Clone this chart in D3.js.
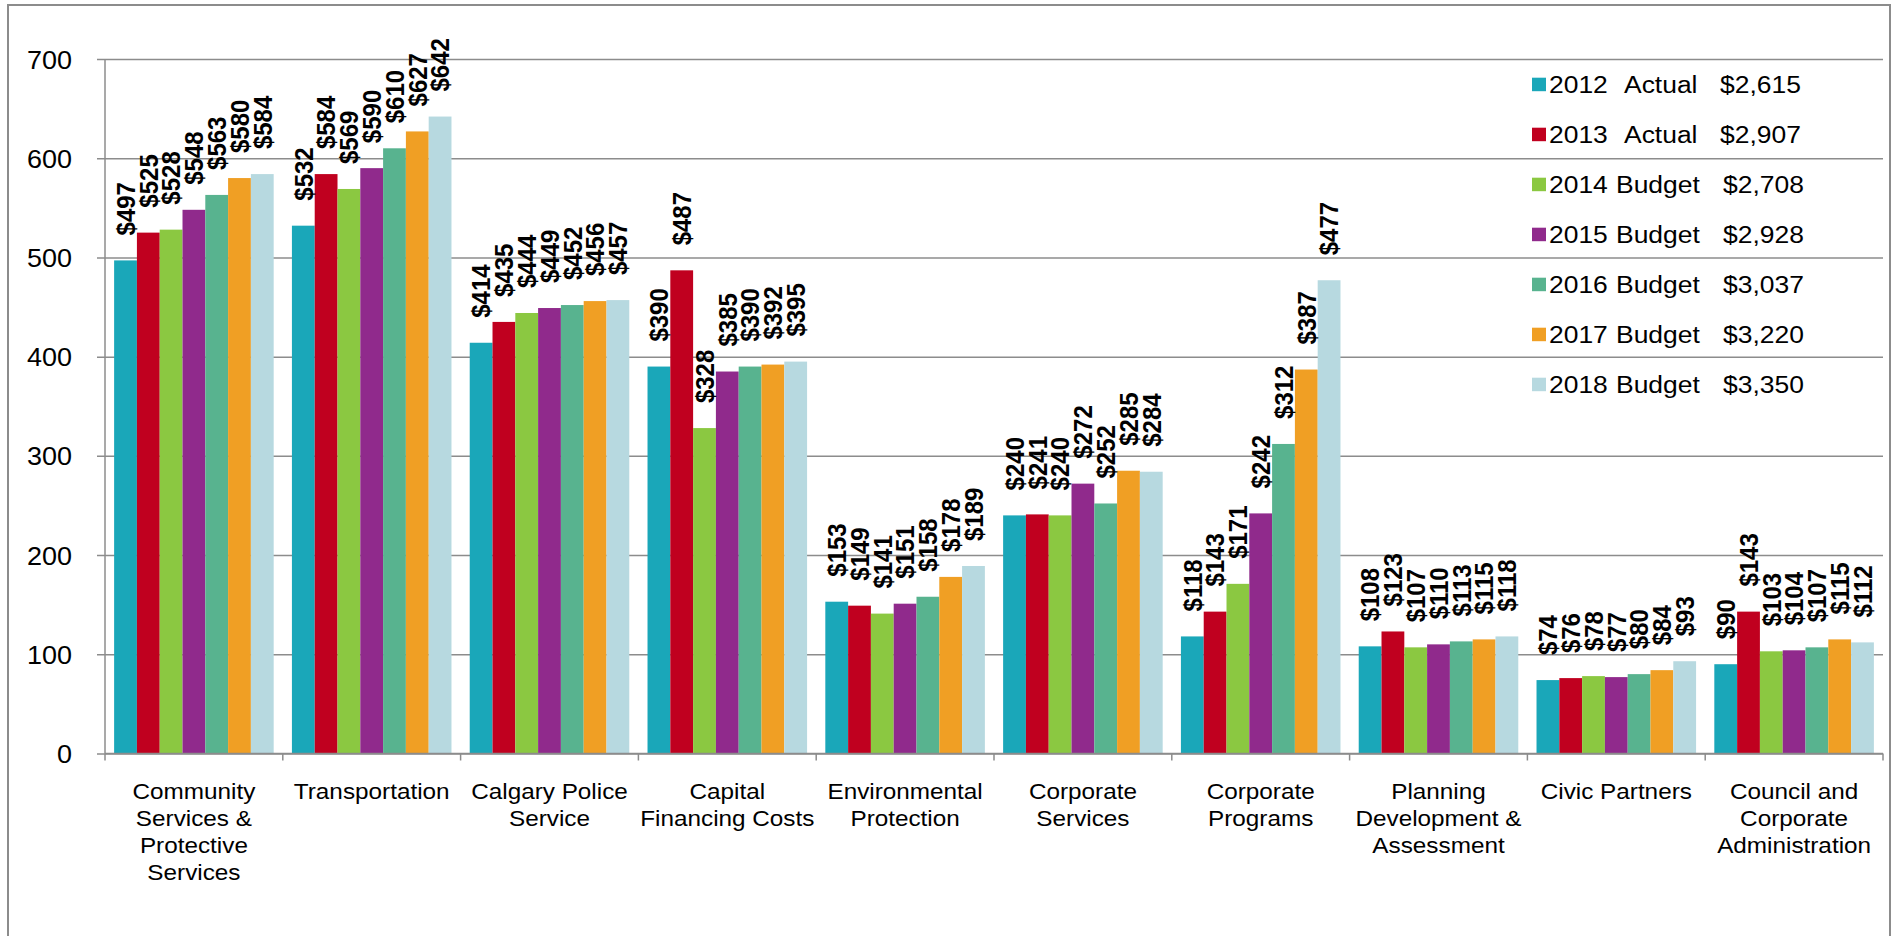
<!DOCTYPE html>
<html>
<head>
<meta charset="utf-8">
<script src="https://cdn.jsdelivr.net/npm/d3@7"></script>
<style>
  html, body { margin: 0; padding: 0; background: #fff; }
  svg { display: block; }
  text { font-family: "Liberation Sans", Arial, sans-serif; fill: #000; }
</style>
</head>
<body>
<svg id="chart" width="1891" height="936"></svg>
<script>
// ---- data ----
const categories = [
  ["Community", "Services &", "Protective", "Services"],
  ["Transportation"],
  ["Calgary Police", "Service"],
  ["Capital", "Financing Costs"],
  ["Environmental", "Protection"],
  ["Corporate", "Services"],
  ["Corporate", "Programs"],
  ["Planning", "Development &", "Assessment"],
  ["Civic Partners"],
  ["Council and", "Corporate", "Administration"]
];
const seriesYears  = ["2012", "2013", "2014", "2015", "2016", "2017", "2018"];
const seriesTypes  = ["Actual", "Actual", "Budget", "Budget", "Budget", "Budget", "Budget"];
const seriesTotals = ["$2,615", "$2,907", "$2,708", "$2,928", "$3,037", "$3,220", "$3,350"];
const seriesColors = ["#1aa7b9", "#c0001f", "#8bc841", "#902a8c", "#58b38f", "#f09f24", "#b7d9e0"];

const v2012 = [497, 532, 414, 390, 153, 240, 118, 108, 74, 90];
const v2013 = [525, 584, 435, 487, 149, 241, 143, 123, 76, 143];
const v2014 = [528, 569, 444, 328, 141, 240, 171, 107, 78, 103];
const v2015 = [548, 590, 449, 385, 151, 272, 242, 110, 77, 104];
const v2016 = [563, 610, 452, 390, 158, 252, 312, 113, 80, 107];
const v2017 = [580, 627, 456, 392, 178, 285, 387, 115, 84, 115];
const v2018 = [584, 642, 457, 395, 189, 284, 477, 118, 93, 112];
const seriesValues = [v2012, v2013, v2014, v2015, v2016, v2017, v2018];

const yTicks = [0, 100, 200, 300, 400, 500, 600, 700];

// ---- layout ----
const svg = d3.select("#chart");
const plotL = 105, plotR = 1883, plotT = 59, plotB = 753.5;
const gridColor = "#8c8c8c";
const stretch = 1.08; // horizontal glyph stretch seen in the reference

// outer border
svg.append("rect")
  .attr("x", 8).attr("y", 5).attr("width", 1882).attr("height", 945)
  .attr("fill", "none").attr("stroke", gridColor).attr("stroke-width", 2);

const x0 = d3.scaleBand().domain(d3.range(categories.length)).range([plotL, plotR]).padding(0);
const x1 = d3.scaleBand().domain(d3.range(seriesYears.length)).range([0, x0.bandwidth()])
  .paddingInner(0).paddingOuter(0.4);
const y = d3.scaleLinear().domain([0, 700]).range([plotB, plotT]);

// gridlines + y ticks
const yAxis = d3.axisLeft(y).tickValues(yTicks).tickSize(-(plotR - plotL)).tickSizeOuter(0).tickPadding(0);
const gy = svg.append("g").attr("transform", `translate(${plotL},0)`).call(yAxis);
gy.select(".domain").remove();
gy.selectAll(".tick line").attr("stroke", gridColor).attr("stroke-width", 1.5).attr("x1", -8);
gy.selectAll(".tick text").attr("x", null).attr("dy", "0.36em")
  .attr("transform", `translate(-33,0) scale(${stretch},1)`)
  .style("font-size", "25px").style("font-family", "'Liberation Sans', Arial, sans-serif");

// y axis line
svg.append("line").attr("x1", plotL).attr("x2", plotL).attr("y1", plotT).attr("y2", plotB)
  .attr("stroke", gridColor).attr("stroke-width", 1.5);

// bars
const groups = svg.append("g").selectAll("g").data(seriesValues).join("g")
  .attr("fill", (d, i) => seriesColors[i]);
groups.each(function(vals, si) {
  d3.select(this).selectAll("rect").data(vals).join("rect")
    .attr("x", (v, ci) => x0(ci) + x1(si))
    .attr("y", v => y(v))
    .attr("width", x1.bandwidth())
    .attr("height", v => y(0) - y(v));
});

// x axis
const xAxisLine = svg.append("g");
xAxisLine.append("line").attr("x1", plotL).attr("x2", plotR).attr("y1", plotB).attr("y2", plotB)
  .attr("stroke", gridColor).attr("stroke-width", 1.5);
xAxisLine.selectAll("line.tk").data(d3.range(categories.length + 1)).join("line")
  .attr("class", "tk")
  .attr("x1", i => plotL + i * x0.step()).attr("x2", i => plotL + i * x0.step())
  .attr("y1", plotB).attr("y2", plotB + 7)
  .attr("stroke", gridColor).attr("stroke-width", 1.5);

// category labels
const catG = svg.append("g").selectAll("text").data(categories).join("text")
  .attr("text-anchor", "middle")
  .attr("transform", (d, i) => `translate(${x0(i) + x0.bandwidth() / 2},799) scale(${stretch},1)`)
  .style("font-size", "22.5px");
catG.each(function(lines) {
  const t = d3.select(this);
  lines.forEach((ln, k) => {
    t.append("tspan").attr("x", 0).attr("dy", k === 0 ? 0 : 27).text(ln);
  });
});

// value labels
const labG = svg.append("g");
seriesValues.forEach((vals, si) => {
  labG.selectAll(null).data(vals).join("text")
    .attr("transform", (v, ci) => {
      const cx = x0(ci) + x1(si) + x1.bandwidth() / 2;
      return `translate(${cx},${y(v) - 25}) rotate(-90) scale(1,${stretch})`;
    })
    .attr("text-anchor", "start")
    .attr("dy", "0.36em")
    .style("font-size", "24px").style("font-weight", "bold")
    .text(v => "$" + v);
});

// legend
const leg = svg.append("g");
seriesYears.forEach((yr, i) => {
  const by = 92.7 + i * 50;
  const isActual = seriesTypes[i] === "Actual";
  leg.append("rect").attr("x", 1532).attr("y", by - 15).attr("width", 14).attr("height", 13.5)
    .attr("fill", seriesColors[i]);
  [[1549, yr], [isActual ? 1624 : 1616, seriesTypes[i]], [isActual ? 1720 : 1723, seriesTotals[i]]]
    .forEach(([tx, txt]) => {
      leg.append("text").attr("transform", `translate(${tx},${by}) scale(${stretch},1)`)
        .style("font-size", "24.5px").text(txt);
    });
});
</script>
</body>
</html>
